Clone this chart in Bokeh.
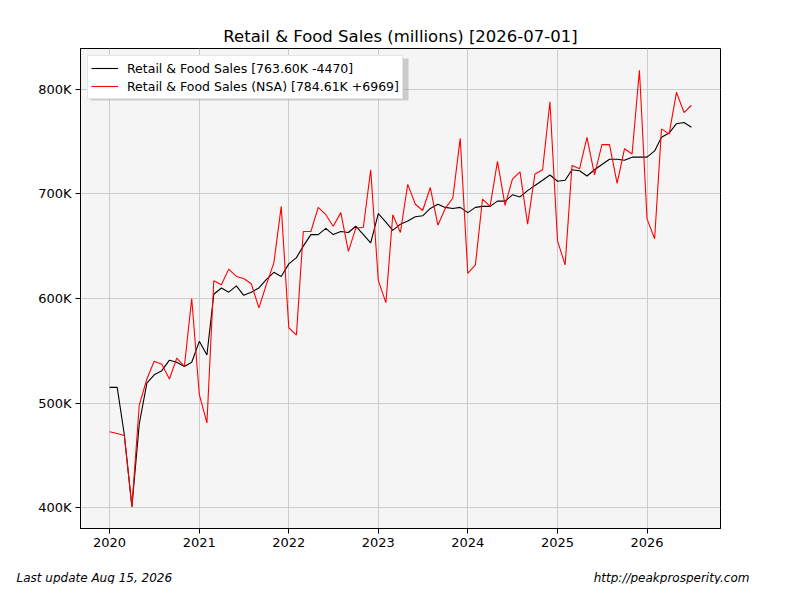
import pandas as pd
from bokeh.plotting import figure
from bokeh.models import (ColumnDataSource, Legend, LegendItem, FixedTicker,
                          DatetimeTickFormatter, Range1d, BoxAnnotation)
from bokeh.core.properties import value
from bokeh.layouts import column
from bokeh.embed import file_html
from bokeh.resources import INLINE

TITLE = "Retail & Food Sales (millions) [2026-07-01]"
START_MONTH = "2020-01-01"

# Seasonally adjusted (values in K = thousands of millions)
sales_sa = [
    515, 515, 470, 401, 480, 519, 527, 531, 541, 539, 535, 539,
    559, 546, 604, 610, 606, 612, 603, 606, 610, 618, 625, 621,
    633, 639, 650, 661, 661, 667, 661, 664, 663, 669, 661, 653,
    681, 673, 665, 671, 674, 678, 679, 686, 690, 687, 686, 687,
    682, 687, 688, 688, 693, 693, 699, 697, 703, 708, 713, 718,
    712, 713, 723, 722, 717, 723, 728, 733, 733, 732, 735, 735,
    735, 741, 754, 758, 767, 768.07, 763.60,
]
# Not seasonally adjusted
sales_nsa = [
    472.6, 471, 469, 401, 498, 523, 540, 537, 523, 543, 535, 600,
    508, 481, 617, 613, 628, 621, 619, 614, 591, 613, 634, 688,
    572, 565, 664, 664, 687, 680, 669, 682, 645, 667, 668, 723,
    617, 596, 680, 663, 709, 690, 684, 706, 670, 686, 696, 753,
    624, 632, 695, 688, 731, 689, 714, 721, 671, 719, 723, 788,
    655, 632, 727, 724, 754, 718, 747, 747, 710, 743, 738, 818,
    676, 657, 762, 757, 797, 777.64, 784.61,
]
legend_labels = [
    "Retail & Food Sales [763.60K -4470]",
    "Retail & Food Sales (NSA) [784.61K +6969]",
]
year_ticks = [2020, 2021, 2022, 2023, 2024, 2025, 2026]
y_ticks = [400, 500, 600, 700, 800]
y_tick_labels = ["400K", "500K", "600K", "700K", "800K"]
footer_left = "Last update Aug 15, 2026"
footer_right = "http://peakprosperity.com"

dates = pd.date_range(START_MONTH, periods=len(sales_sa), freq="MS")
src = ColumnDataSource(dict(date=dates, sa=sales_sa, nsa=sales_nsa))

# matplotlib-like 5% margins
t0 = dates[0].value / 1e6
t1 = dates[-1].value / 1e6
dx = (t1 - t0) * 0.05
allv = sales_sa + sales_nsa
vmin, vmax = min(allv), max(allv)
dy = (vmax - vmin) * 0.05

FONT = "DejaVu Sans"
W = 784
H_MAIN = 560
H_FOOT = 24

p = figure(width=W, height=H_MAIN, output_backend="svg", toolbar_location=None,
           x_axis_type="datetime",
           x_range=Range1d(t0 - dx, t1 + dx), y_range=Range1d(vmin - dy, vmax + dy),
           min_border_left=80, min_border_right=64, min_border_top=48, min_border_bottom=32)
p.background_fill_color = "#f5f5f5"
p.border_fill_color = "white"
p.outline_line_color = "black"
p.outline_line_width = 1
p.outline_line_alpha = 1

p.title.text = TITLE
p.title.align = "center"
p.title.text_font = FONT
p.title.text_font_size = "16.5px"
p.title.text_font_style = "normal"
p.title.text_color = "black"
p.title.standoff = 6

# legend shadow (behind legend, offset down/right)
shadow = BoxAnnotation(left=10, right=328, top=470, bottom=428,
                       left_units="screen", right_units="screen",
                       top_units="screen", bottom_units="screen",
                       fill_color="#999999", fill_alpha=0.45, line_color=None)
p.add_layout(shadow)

r_sa = p.line("date", "sa", source=src, color="black", line_width=1.1)
r_nsa = p.line("date", "nsa", source=src, color="red", line_width=1.1)

p.xaxis.ticker = FixedTicker(ticks=[pd.Timestamp(f"{y}-01-01").value / 1e6 for y in year_ticks])
p.xaxis.formatter = DatetimeTickFormatter(years="%Y", months="%Y", days="%Y")
p.yaxis.ticker = FixedTicker(ticks=y_ticks)
p.yaxis.major_label_overrides = {t: l for t, l in zip(y_ticks, y_tick_labels)}

for ax in (p.xaxis, p.yaxis):
    ax.major_label_text_font = FONT
    ax.major_label_text_font_size = "13px"
    ax.major_label_text_color = "black"
    ax.axis_line_color = "black"
    ax.major_tick_line_color = "black"
    ax.major_tick_out = 5
    ax.major_tick_in = 0
    ax.minor_tick_line_color = None
    ax.major_label_standoff = 4

p.grid.grid_line_color = "#cccccc"
p.grid.grid_line_width = 1

legend = Legend(items=[LegendItem(label=legend_labels[0], renderers=[r_sa]),
                       LegendItem(label=legend_labels[1], renderers=[r_nsa])],
                location="top_left", margin=7, padding=3, spacing=0,
                glyph_width=27, glyph_height=18, label_height=18,
                label_standoff=9,
                label_text_font=FONT, label_text_font_size="12.5px",
                label_text_color="black",
                border_line_color="#cccccc", border_line_width=1,
                background_fill_color="white", background_fill_alpha=1)
p.add_layout(legend)

# footer strip
f = figure(width=W, height=H_FOOT, output_backend="svg", toolbar_location=None,
           x_range=Range1d(0, W), y_range=Range1d(0, H_FOOT),
           x_axis_location=None, y_axis_location=None,
           min_border=0, min_border_left=0, min_border_right=0,
           min_border_top=0, min_border_bottom=0)
f.frame_align = False
f.outline_line_color = None
f.grid.visible = False
f.background_fill_color = "white"
f.border_fill_color = "white"
f.text(x=[16], y=[7], text=[footer_left], text_font=value(FONT), text_font_style="italic",
       text_font_size="12px", text_baseline="middle", text_align="left", text_color="black")
f.text(x=[749], y=[7], text=[footer_right], text_font=value(FONT), text_font_style="italic",
       text_font_size="12px", text_baseline="middle", text_align="right", text_color="black")

layout = column(p, f, spacing=0)
open("out.html", "w").write(file_html(layout, INLINE))
